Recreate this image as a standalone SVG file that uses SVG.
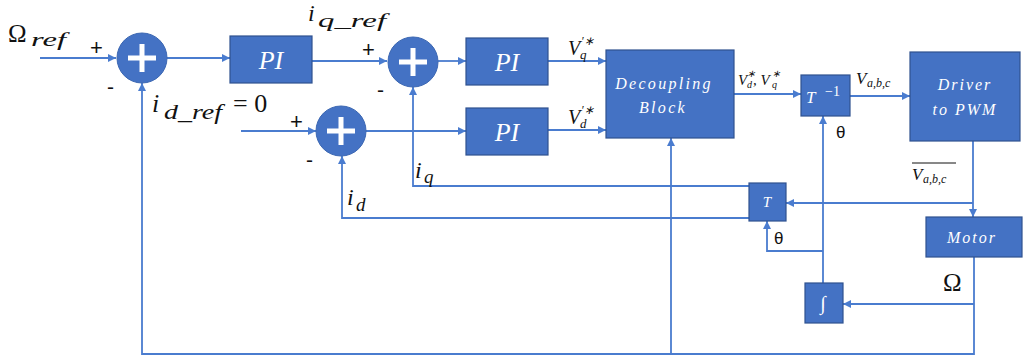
<svg xmlns="http://www.w3.org/2000/svg" width="1030" height="359" viewBox="0 0 1030 359">
<defs>
<marker id="ah" viewBox="0 0 10 10" refX="10" refY="5" markerWidth="9" markerHeight="8" markerUnits="userSpaceOnUse" orient="auto">
<path d="M0,0 L10,5 L0,10 z" fill="#4A7CCF"/>
</marker>
<style>
.blk{fill:#4472C4;stroke:#2F528F;stroke-width:1.2}
.sum{fill:#4472C4;stroke:#3A66B2;stroke-width:1}
.pl{stroke:#fff;stroke-width:5;fill:none}
.ln{fill:none;stroke:#4A7CCF;stroke-width:1.8}
.ar{marker-end:url(#ah)}
.bt{font-family:"Liberation Serif",serif;font-style:italic;fill:#fff;text-anchor:middle}
.m{font-family:"Liberation Serif",serif;font-style:italic;fill:#111}
.s{font-family:"Liberation Sans",sans-serif;fill:#111}
</style>
</defs>
<rect width="1030" height="359" fill="#fff"/>
<g id="connectors">
<path class="ln ar" d="M40,58 H116"/>
<path class="ln ar" d="M167,58 H230"/>
<path class="ln ar" d="M312,61 H387"/>
<path class="ln ar" d="M438,61 H466"/>
<path class="ln ar" d="M548,61 H606"/>
<path class="ln ar" d="M241,131 H316"/>
<path class="ln ar" d="M366,131 H466"/>
<path class="ln ar" d="M548,130 H606"/>
<path class="ln ar" d="M734,94 H801"/>
<path class="ln ar" d="M850,96 H910"/>
<path class="ln ar" d="M973,141 V217"/>
<path class="ln ar" d="M973,203 H786"/>
<path class="ln ar" d="M749,186 H413 V87"/>
<path class="ln ar" d="M749,218 H342 V156"/>
<path class="ln ar" d="M974,257 V354 H142 V83"/>
<path class="ln ar" d="M974,304 H843"/>
<path class="ln ar" d="M823,283 V116"/>
<path class="ln ar" d="M823,251 H767 V221"/>
<path class="ln ar" d="M671,354 V138"/>
</g>
<g id="sum1"><circle class="sum" cx="142" cy="58" r="25"/><path class="pl" d="M128,58 H156 M142,44 V72"/></g>
<g id="sum2"><circle class="sum" cx="341" cy="131" r="25"/><path class="pl" d="M327,131 H355 M341,117 V145"/></g>
<g id="sum3"><circle class="sum" cx="413" cy="62" r="25"/><path class="pl" d="M399,62 H427 M413,48 V76"/></g>
<g id="pi1"><rect class="blk" x="230" y="36" width="82" height="47"/><text class="bt" x="271" y="69" font-size="26">PI</text></g>
<g id="pi2"><rect class="blk" x="466" y="38" width="82" height="47"/><text class="bt" x="507" y="71" font-size="26">PI</text></g>
<g id="pi3"><rect class="blk" x="466" y="108" width="82" height="47"/><text class="bt" x="507" y="141" font-size="26">PI</text></g>
<g id="decoupling"><rect class="blk" x="606" y="50" width="128" height="88"/>
<text class="bt" x="664" y="89" font-size="16" letter-spacing="2.3">Decoupling</text>
<text class="bt" x="663" y="113" font-size="16" letter-spacing="2.3">Block</text></g>
<g id="tinv"><rect class="blk" x="801" y="75" width="49" height="41"/>
<text x="806" y="103" font-family="Liberation Serif,serif" font-style="italic" font-size="17" fill="#fff">T</text><text x="825" y="96" font-family="Liberation Serif,serif" font-size="14" fill="#fff">−1</text></g>
<g id="driver"><rect class="blk" x="910" y="52" width="110" height="89"/>
<text class="bt" x="965" y="90" font-size="16" letter-spacing="2">Driver</text>
<text class="bt" x="965" y="115" font-size="16" letter-spacing="2">to PWM</text></g>
<g id="t"><rect class="blk" x="749" y="183" width="37" height="38"/><text class="bt" x="767" y="207" font-size="15">T</text></g>
<g id="motor"><rect class="blk" x="926" y="217" width="96" height="40"/><text class="bt" x="972" y="243" font-size="16" letter-spacing="2">Motor</text></g>
<g id="integrator"><rect class="blk" x="805" y="283" width="38" height="40"/><text class="bt" x="823" y="310" font-size="20">∫</text></g>
<g id="labels">
<text x="8" y="42" font-family="Liberation Serif,serif" font-size="25" fill="#111">Ω</text><text class="m" x="31" y="46" font-size="19" textLength="35" lengthAdjust="spacingAndGlyphs">ref</text>
<text class="s" x="90" y="55" font-size="22">+</text><text class="s" x="107" y="94" font-size="21">-</text>
<text class="m" x="308" y="21" font-size="24">i</text><text class="m" x="318" y="27" font-size="19" textLength="68" lengthAdjust="spacingAndGlyphs">q_ref</text>
<text class="s" x="362" y="57" font-size="22">+</text><text class="s" x="377" y="97" font-size="21">-</text>
<text class="m" x="152" y="112" font-size="26">i</text><text class="m" x="164" y="119" font-size="20" textLength="58" lengthAdjust="spacingAndGlyphs">d_ref</text>
<text x="233" y="112" font-family="Liberation Serif,serif" font-size="26" fill="#111">= 0</text>
<text class="s" x="290" y="129" font-size="22">+</text><text class="s" x="306" y="167" font-size="21">-</text>
<text class="m" x="568" y="55" font-size="20">V</text><text class="m" x="580" y="59" font-size="13">q</text><text class="m" x="581" y="45" font-size="12">′∗</text>
<text class="m" x="568" y="124" font-size="20">V</text><text class="m" x="580" y="128" font-size="13">d</text><text class="m" x="581" y="114" font-size="12">′∗</text>
<text class="m" x="738" y="85" font-size="15">V</text><text class="m" x="747" y="88" font-size="10">d</text><text class="m" x="747" y="77" font-size="10">∗</text><text class="m" x="753" y="85" font-size="15">, V</text><text class="m" x="772" y="88" font-size="10">q</text><text class="m" x="772" y="77" font-size="10">∗</text>
<text class="m" x="856" y="84" font-size="17">V</text><text class="m" x="867" y="87" font-size="12">a,b,c</text>
<text class="s" x="836" y="138" font-size="17">θ</text>
<path d="M912,163 H956" stroke="#111" stroke-width="1"/>
<text class="m" x="912" y="180" font-size="17">V</text><text class="m" x="923" y="183" font-size="12">a,b,c</text>
<text class="m" x="415" y="178" font-size="24">i</text><text class="m" x="424" y="183" font-size="19">q</text>
<text class="m" x="347" y="205" font-size="24">i</text><text class="m" x="356" y="211" font-size="19">d</text>
<text class="s" x="774" y="244" font-size="17">θ</text>
<text x="943" y="291" font-family="Liberation Serif,serif" font-size="25" fill="#111">Ω</text>
</g>
</svg>
